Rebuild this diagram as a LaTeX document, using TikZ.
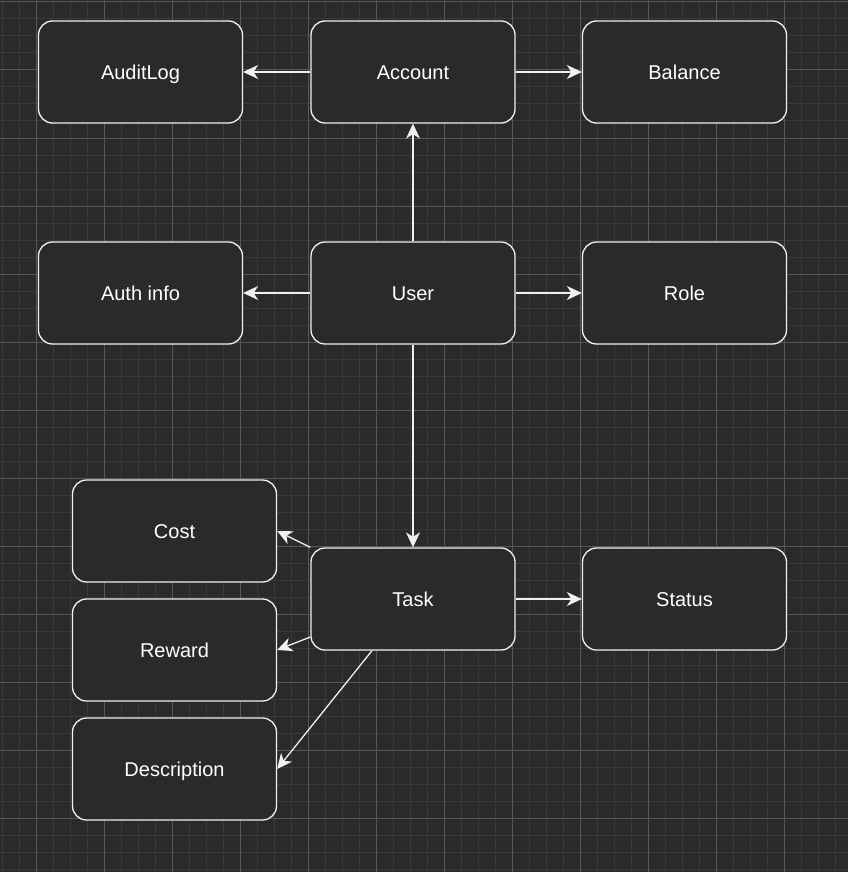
\documentclass[tikz,border=0pt]{standalone}
\usepackage{fontspec}
\setmainfont{Liberation Sans}
\usetikzlibrary{arrows.meta}
\definecolor{bg}{HTML}{2A2A2A}
\definecolor{gminor}{HTML}{393939}
\definecolor{gmajor}{HTML}{575757}
\definecolor{edgec}{HTML}{F0F0F0}
\begin{document}
\begin{tikzpicture}[x=1pt,y=-1pt,
  box/.style={draw=edgec, fill=bg, line width=1.3pt, rounded corners=14pt,
    minimum width=204pt, minimum height=102pt, text=white,
    font=\fontsize{20}{24}\selectfont, inner sep=0pt,
    text height=19pt, text depth=4pt},
  conn/.style={draw=edgec, line width=1.3pt,
    -{Stealth[length=15pt,width=14pt,inset=4.5pt]}},
  gridminor/.style={draw=gminor, line width=1pt},
  gridmajor/.style={draw=gmajor, line width=1pt}]
\fill[bg] (0,0) rectangle (848,872);
\useasboundingbox (0,0) rectangle (848,872);
% grid
\foreach \k in {0,...,49} {\draw[gridminor] ({2+17*\k},0) -- ({2+17*\k},872);}
\foreach \k in {0,...,51} {\draw[gridminor] (0,{2+17*\k}) -- (848,{2+17*\k});}
\foreach \k in {0,...,11} {\draw[gridmajor] ({36+68*\k},0) -- ({36+68*\k},872);}
\foreach \k in {0,...,12} {\draw[gridmajor] (0,{2+68*\k}) -- (848,{2+68*\k});}
% nodes
\node[box] (audit) at (140.5,72) {AuditLog};
\node[box] (acc) at (413,72) {Account};
\node[box] (bal) at (684.5,72) {Balance};
\node[box] (auth) at (140.5,293) {Auth info};
\node[box] (user) at (413,293) {User};
\node[box] (role) at (684.5,293) {Role};
\node[box] (cost) at (174.5,531) {Cost};
\node[box] (reward) at (174.5,650) {Reward};
\node[box] (desc) at (174.5,769) {Description};
\node[box] (task) at (413,599) {Task};
\node[box] (status) at (684.5,599) {Status};
% connectors
\draw[conn] (acc.west) -- (audit.east);
\draw[conn] (acc.east) -- (bal.west);
\draw[conn] (user.north) -- (acc.south);
\draw[conn] (user.west) -- (auth.east);
\draw[conn] (user.east) -- (role.west);
\draw[conn] (user.south) -- (task.north);
\draw[conn] (task.east) -- (status.west);
\draw[conn] (task.north west) -- (cost.east);
\draw[conn] ([yshift=-38pt]task.west) -- (reward.east);
\draw[conn] ([xshift=-41pt]task.south) -- (desc.east);
\end{tikzpicture}
\end{document}
